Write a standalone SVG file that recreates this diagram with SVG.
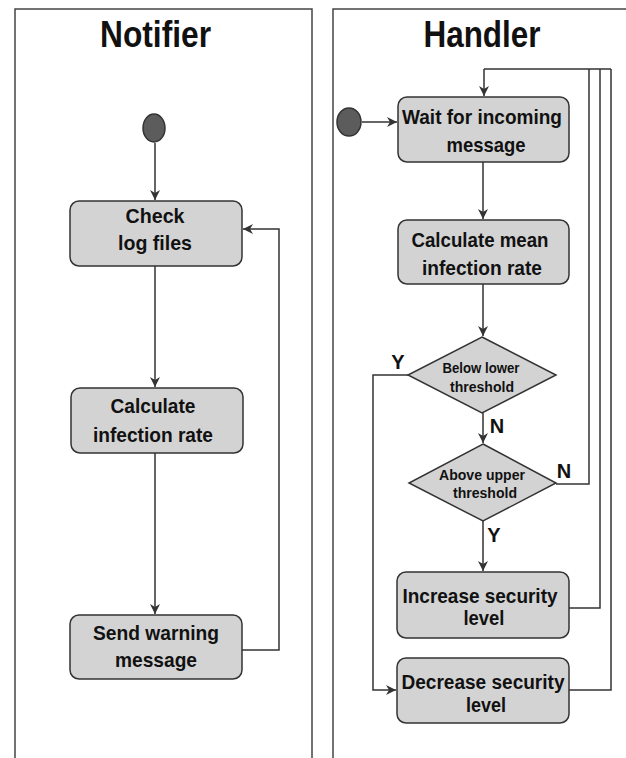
<svg xmlns="http://www.w3.org/2000/svg" width="626" height="758" viewBox="0 0 626 758">
<defs>
<marker id="ah" viewBox="0 0 10 10" refX="10" refY="5" markerWidth="10" markerHeight="10" markerUnits="userSpaceOnUse" orient="auto">
<path d="M0,0 L10,5 L0,10 L3,5 z" fill="#333"/>
</marker>
<style>
.lane{fill:none;stroke:#444;stroke-width:1.5}
.box{fill:#d3d3d3;stroke:#333;stroke-width:1.5}
.start{fill:#5c5c5c;stroke:#333;stroke-width:1.5}
.c{fill:none;stroke:#333;stroke-width:1.5}
.ca{fill:none;stroke:#333;stroke-width:1.5;marker-end:url(#ah)}
text{font-family:"Liberation Sans",Arial,sans-serif;font-weight:bold;fill:#111;text-anchor:middle}
.t{font-size:37px}
.b{font-size:21px}
.d{font-size:14px}
.l{font-size:20px}
</style>
</defs>
<rect width="626" height="758" fill="#fff"/>
<g id="lanes">
<rect class="lane" x="15" y="9" width="297" height="800"/>
<rect class="lane" x="333" y="9" width="320" height="800"/>
<text class="t" x="155.5" y="47" textLength="111" lengthAdjust="spacingAndGlyphs">Notifier</text>
<text class="t" x="482" y="47" textLength="117" lengthAdjust="spacingAndGlyphs">Handler</text>
</g>
<g id="connectors">
<path class="ca" d="M155,143 V200"/>
<path class="ca" d="M155,266 V387"/>
<path class="ca" d="M155,453 V614"/>
<path class="ca" d="M242,650 H279 V229 H243"/>
<path class="ca" d="M362,122 H397"/>
<path class="ca" d="M484,69 H611 M484,69 V96"/>
<path class="c" d="M589,69 V484 H556"/>
<path class="c" d="M600,69 V608 H569"/>
<path class="c" d="M611,69 V690 H569"/>
<path class="ca" d="M483,162 V219"/>
<path class="ca" d="M483,284 V336"/>
<path class="ca" d="M483,413 V443"/>
<path class="ca" d="M483,521 V571"/>
<path class="ca" d="M408,375 H373 V690 H396"/>
<text class="l" x="398" y="369">Y</text>
<text class="l" x="497" y="433">N</text>
<text class="l" x="564" y="478">N</text>
<text class="l" x="494" y="542">Y</text>
</g>
<g id="n-start1"><ellipse class="start" cx="154" cy="128" rx="11" ry="14"/></g>
<g id="n-check">
<rect class="box" x="70" y="201" width="172" height="65" rx="9"/>
<text class="b" x="155" y="223" textLength="59" lengthAdjust="spacingAndGlyphs">Check</text>
<text class="b" x="155" y="250" textLength="74" lengthAdjust="spacingAndGlyphs">log files</text>
</g>
<g id="n-calc">
<rect class="box" x="71" y="388" width="172" height="65" rx="9"/>
<text class="b" x="153" y="413" textLength="85" lengthAdjust="spacingAndGlyphs">Calculate</text>
<text class="b" x="153" y="442" textLength="120" lengthAdjust="spacingAndGlyphs">infection rate</text>
</g>
<g id="n-send">
<rect class="box" x="70" y="615" width="172" height="64" rx="9"/>
<text class="b" x="156" y="640" textLength="126" lengthAdjust="spacingAndGlyphs">Send warning</text>
<text class="b" x="156" y="667" textLength="82" lengthAdjust="spacingAndGlyphs">message</text>
</g>
<g id="n-start2"><ellipse class="start" cx="349" cy="122" rx="12" ry="14"/></g>
<g id="n-wait">
<rect class="box" x="398" y="97" width="171" height="65" rx="9"/>
<text class="b" x="482" y="124" textLength="160" lengthAdjust="spacingAndGlyphs">Wait for incoming</text>
<text class="b" x="486" y="152" textLength="79" lengthAdjust="spacingAndGlyphs">message</text>
</g>
<g id="n-mean">
<rect class="box" x="398" y="220" width="171" height="64" rx="9"/>
<text class="b" x="480" y="247" textLength="137" lengthAdjust="spacingAndGlyphs">Calculate mean</text>
<text class="b" x="482" y="275" textLength="120" lengthAdjust="spacingAndGlyphs">infection rate</text>
</g>
<g id="n-below">
<path class="box" d="M482,337 L556,375 L482,413 L408,375 z"/>
<text class="d" x="481" y="373" textLength="77" lengthAdjust="spacingAndGlyphs">Below lower</text>
<text class="d" x="482" y="392" textLength="64" lengthAdjust="spacingAndGlyphs">threshold</text>
</g>
<g id="n-above">
<path class="box" d="M483,444 L556,483 L483,521 L409,483 z"/>
<text class="d" x="482" y="480" textLength="86" lengthAdjust="spacingAndGlyphs">Above upper</text>
<text class="d" x="485" y="498" textLength="64" lengthAdjust="spacingAndGlyphs">threshold</text>
</g>
<g id="n-increase">
<rect class="box" x="397" y="572" width="172" height="66" rx="9"/>
<text class="b" x="480" y="603" textLength="155" lengthAdjust="spacingAndGlyphs">Increase security</text>
<text class="b" x="484" y="625" textLength="41" lengthAdjust="spacingAndGlyphs">level</text>
</g>
<g id="n-decrease">
<rect class="box" x="397" y="658" width="172" height="65" rx="9"/>
<text class="b" style="font-size:20px" x="483" y="689" textLength="163" lengthAdjust="spacingAndGlyphs">Decrease security</text>
<text class="b" style="font-size:20px" x="486" y="712" textLength="40" lengthAdjust="spacingAndGlyphs">level</text>
</g>
</svg>
